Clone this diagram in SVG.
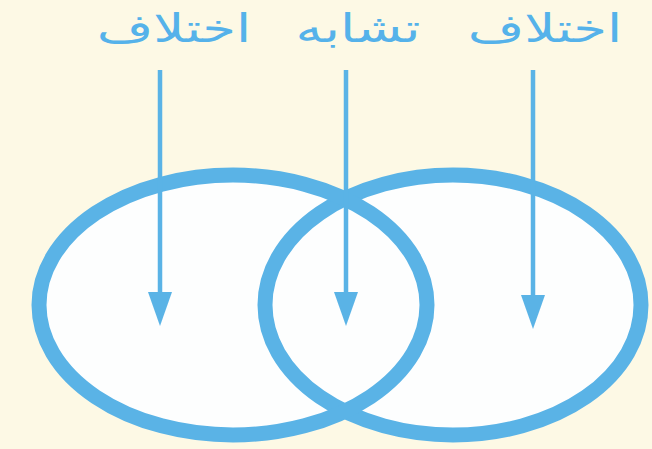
<svg xmlns="http://www.w3.org/2000/svg" width="652" height="449" viewBox="0 0 652 449">
<style>
.fillw{fill:#fdfefe;stroke:none}
.ring{fill:none;stroke:#5ab3e6;stroke-width:15}
.lbl{font-family:"DejaVu Sans",sans-serif;font-size:39px;fill:#55b2ea;text-anchor:middle}
.shaft{stroke:#5ab3e6;stroke-width:4.5}
.head{fill:#5ab3e6}
</style>
<rect width="652" height="449" fill="#fdf9e5"/>
<g id="left-set">
<ellipse class="fillw" cx="233" cy="305" rx="194" ry="130"/>
</g>
<g id="right-set">
<ellipse class="fillw" cx="453" cy="305" rx="188" ry="130"/>
<ellipse class="ring" cx="453" cy="305" rx="188" ry="130"/>
</g>
<g id="left-set-ring">
<ellipse class="ring" cx="233" cy="305" rx="194" ry="130"/>
</g>
<g id="labels">
<text class="lbl" transform="translate(174,42) scale(1.4,1)">اختلاف</text>
<text class="lbl" transform="translate(358,42) scale(1.4,1)">تشابه</text>
<text class="lbl" transform="translate(545,42) scale(1.4,1)">اختلاف</text>
</g>
<g id="connectors">
<line class="shaft" x1="160" y1="70" x2="160" y2="300"/>
<line class="shaft" x1="346" y1="70" x2="346" y2="300"/>
<line class="shaft" x1="533" y1="70" x2="533" y2="303"/>
<path class="head" d="M148,292 L172,292 L160,326 Z"/>
<path class="head" d="M334,292 L358,292 L346,326 Z"/>
<path class="head" d="M521,295 L545,295 L533,329 Z"/>
</g>
</svg>
